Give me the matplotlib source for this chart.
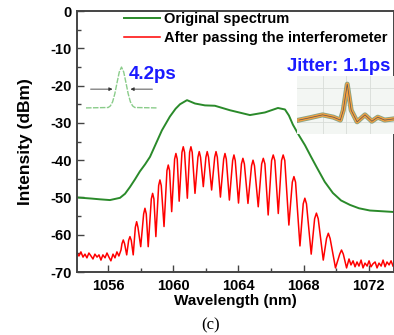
import matplotlib
matplotlib.use('Agg')
import matplotlib.pyplot as plt
import numpy as np

plt.rcParams['font.family'] = ['Liberation Sans', 'DejaVu Sans']
plt.rcParams['font.weight'] = 'bold'
plt.rcParams['axes.unicode_minus'] = False

# original spectrum (green)
orig_wl = [1054.10, 1055.00, 1055.51, 1056.12, 1056.74, 1057.05, 1057.35, 1057.65,
           1057.96, 1058.28, 1058.58, 1058.95, 1059.31, 1059.80, 1060.15, 1060.42,
           1060.85, 1061.34, 1061.95, 1062.56, 1063.48, 1064.71, 1065.63, 1066.43,
           1066.86, 1067.10, 1067.35, 1067.70, 1068.09, 1068.45, 1068.82, 1069.30,
           1069.80, 1070.30, 1070.85, 1071.40, 1072.07, 1073.55]
orig_db = [-50.0, -50.3, -50.5, -50.7, -50.1, -49.0, -47.2, -45.2,
           -43.0, -41.1, -39.1, -35.5, -32.0, -28.3, -26.2, -25.0,
           -23.9, -24.8, -25.3, -25.4, -26.6, -27.9, -27.2, -26.0,
           -26.4, -28.0, -30.5, -33.2, -36.0, -39.0, -42.0, -45.8,
           -48.8, -50.8, -52.0, -52.9, -53.5, -53.9]

# after interferometer (red): noise floor, fringes (shoulder, peak, shoulder, trough), noise floor
red_wl = [1054.10, 1054.22, 1054.34, 1054.47, 1054.59, 1054.71, 1054.83, 1054.96,
          1055.08, 1055.20, 1055.33, 1055.45, 1055.57, 1055.69, 1055.82, 1055.94,
          1056.06, 1056.18, 1056.31, 1056.43, 1056.55, 1056.67, 1056.80,
          1056.86, 1056.94, 1057.02, 1057.15,
          1057.27, 1057.35, 1057.43, 1057.55,
          1057.68, 1057.76, 1057.84, 1058.01,
          1058.19, 1058.27, 1058.35, 1058.47,
          1058.66, 1058.74, 1058.82, 1058.94,
          1059.11, 1059.19, 1059.27, 1059.44,
          1059.62, 1059.70, 1059.78, 1059.91,
          1060.09, 1060.17, 1060.25, 1060.37,
          1060.54, 1060.62, 1060.70, 1060.87,
          1061.01, 1061.09, 1061.17, 1061.34,
          1061.52, 1061.60, 1061.68, 1061.85,
          1062.01, 1062.09, 1062.17, 1062.36,
          1062.55, 1062.63, 1062.71, 1062.90,
          1063.10, 1063.18, 1063.26, 1063.45,
          1063.65, 1063.73, 1063.81, 1064.01,
          1064.19, 1064.28, 1064.37, 1064.59,
          1064.81, 1064.90, 1064.99, 1065.22,
          1065.43, 1065.53, 1065.63, 1065.83,
          1066.04, 1066.14, 1066.24, 1066.45,
          1066.65, 1066.75, 1066.85, 1067.10,
          1067.31, 1067.41, 1067.51, 1067.78,
          1067.98, 1068.08, 1068.18, 1068.47,
          1068.68, 1068.79, 1068.90, 1069.21,
          1069.41, 1069.52, 1069.63, 1069.96,
          1070.22, 1070.33, 1070.44, 1070.64,
          1070.79, 1070.91, 1071.04, 1071.16, 1071.28, 1071.40, 1071.53, 1071.65,
          1071.77, 1071.90, 1072.02, 1072.14, 1072.26, 1072.39, 1072.51, 1072.63,
          1072.76, 1072.88, 1073.00, 1073.12, 1073.25, 1073.37, 1073.49]
red_db = [-64.9, -65.7, -64.6, -66.0, -65.2, -66.2, -64.9, -65.7,
          -66.5, -65.2, -66.0, -65.4, -66.8, -65.4, -66.2, -64.9,
          -66.0, -67.0, -65.2, -66.2, -64.6, -65.7, -64.1,
          -62.4, -61.4, -62.4, -65.4,
          -61.5, -60.5, -61.5, -65.4,
          -58.0, -56.5, -58.0, -63.2,
          -54.4, -52.9, -54.4, -63.2,
          -50.4, -48.9, -50.4, -60.5,
          -46.8, -45.3, -46.8, -57.8,
          -42.8, -41.3, -42.8, -53.8,
          -39.7, -38.2, -39.7, -51.0,
          -37.9, -36.4, -37.9, -50.2,
          -37.9, -36.4, -37.9, -48.9,
          -39.2, -37.7, -39.2, -47.1,
          -39.2, -37.7, -39.2, -48.0,
          -39.2, -37.7, -39.2, -49.9,
          -39.7, -38.2, -39.7, -50.7,
          -40.1, -38.6, -40.1, -51.5,
          -41.0, -39.5, -41.0, -51.6,
          -41.5, -40.0, -41.5, -52.5,
          -41.0, -39.5, -41.0, -54.7,
          -40.1, -38.6, -40.1, -54.3,
          -40.1, -38.6, -40.1, -57.4,
          -45.9, -44.4, -45.9, -63.0,
          -51.7, -50.2, -51.7, -65.2,
          -55.7, -54.2, -55.7, -66.8,
          -61.0, -59.6, -61.0, -68.9,
          -65.2, -64.1, -65.2, -68.9,
          -66.5, -68.1, -67.0, -68.6, -67.3, -68.4, -66.8, -68.9,
          -67.6, -68.4, -67.0, -68.6, -67.8, -67.3, -68.9, -67.6,
          -68.4, -66.8, -68.6, -67.3, -68.1, -67.0, -68.4]

# left inset: pulse shape (arb. units)
pulse_t = [-8, -3, -2.5, -2, -1.5, -1, -0.5, 0, 0.5, 1, 1.5, 2, 2.5, 3, 8]
pulse_a = [0, 0.01, 0.05, 0.15, 0.35, 0.62, 0.88, 1.0, 0.88, 0.62, 0.35, 0.15, 0.05, 0.01, 0]

# right inset: jitter trace (arb. units)
jit_t = [2, 13, 26, 37, 44, 47, 51, 55, 61, 69, 76, 82, 89, 98]
jit_a = [0.24, 0.28, 0.33, 0.29, 0.24, 0.41, 0.86, 0.41, 0.21, 0.33, 0.22, 0.29, 0.24, 0.26]

green = '#2a8a2a'
red = '#ff0000'

fig = plt.figure(figsize=(3.94, 3.35), dpi=100)
ax = fig.add_axes([0.1954, 0.188, 0.8046, 0.779])

ax.plot(orig_wl, orig_db, color=green, lw=1.4, label='Original spectrum')
ax.plot(red_wl, red_db, color=red, lw=1.1, label='After passing the interferometer')

ax.set_xlim(1054.1, 1073.55)
ax.set_ylim(-70, 0)
ax.set_xticks([1056, 1060, 1064, 1068, 1072])
ax.set_xticks([1058, 1062, 1066, 1070], minor=True)
ax.set_yticks(np.arange(-70, 1, 10))
ax.set_yticks(np.arange(-65, 0, 10), minor=True)
ax.tick_params(which='both', direction='in', width=1.0, color='#444444')
ax.tick_params(which='major', length=5, labelsize=10.5)
ax.tick_params(which='minor', length=3)
ax.tick_params(axis='x', pad=5)
ax.tick_params(axis='y', pad=4)
for sp in ax.spines.values():
    sp.set_color('#444444')
    sp.set_linewidth(1.4)

ax.set_xlabel('Wavelength (nm)', fontsize=11, fontweight='bold', labelpad=1)
ax.set_ylabel('Intensity (dBm)', fontsize=12.5, fontweight='bold', labelpad=12)

ax.legend(loc='upper left', bbox_to_anchor=(0.13, 1.02), frameon=False,
          fontsize=10.5, handlelength=2.5, handletextpad=0.25, labelspacing=0.35,
          borderaxespad=0.0)

ax.text(1058.75, -16.9, '4.2ps', color='#1a1aff', fontsize=13.5,
        fontweight='bold', ha='center', va='center')
ax.text(1066.98, -15.0, 'Jitter: 1.1ps', color='#1a1aff', fontsize=13.3,
        fontweight='bold', ha='left', va='center')

fig.text(0.535, 0.03, '(c)', family='Liberation Serif', fontweight='normal',
         fontsize=12, ha='center', va='center')

# left inset: pulse with FWHM arrows
axp = fig.add_axes([86 / 394, (335 - 112) / 335, 71 / 394, 49 / 335])
axp.axis('off')
axp.plot(pulse_t, pulse_a, color='#8acc8a', lw=1.0, ls=(0, (4, 1)))
axp.set_xlim(-8, 8)
axp.set_ylim(-0.1, 1.1)
axp.annotate('', xy=(-1.4, 0.46), xytext=(-7.6, 0.46),
             arrowprops=dict(arrowstyle='-|>', color='#333333', lw=0.6,
                             mutation_scale=5))
axp.annotate('', xy=(1.4, 0.46), xytext=(7.6, 0.46),
             arrowprops=dict(arrowstyle='-|>', color='#333333', lw=0.6,
                             mutation_scale=5))

# right inset: jitter trace on light grid
axj = fig.add_axes([297 / 394, (335 - 134) / 335, 0.25, 58 / 335])
axj.set_facecolor('#f3f6f3')
for sp in axj.spines.values():
    sp.set_visible(False)
axj.set_xticks([])
axj.set_yticks([])
for gx in [26, 50, 74]:
    axj.axvline(gx, color='#d8dcd8', lw=0.6)
for gy in [0.2, 0.5, 0.8]:
    axj.axhline(gy, color='#d8dcd8', lw=0.6)
axj.plot(jit_t, jit_a, color='#6a8f6a', lw=3.6, alpha=0.8)
axj.plot(jit_t, jit_a, color='#f5a040', lw=2.4)
axj.plot(jit_t, jit_a, color='#555555', lw=0.5)
axj.set_xlim(0, 100)
axj.set_ylim(0, 1)

fig.savefig('out.png', dpi=100)
